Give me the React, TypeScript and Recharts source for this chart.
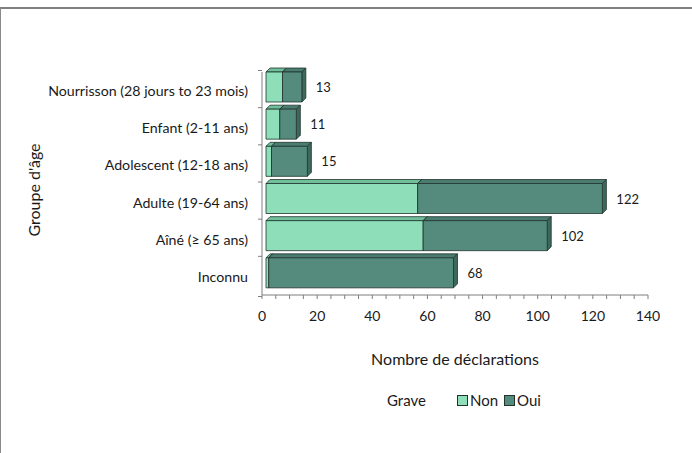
import { BarChart, Bar, XAxis, YAxis, LabelList, Legend, Label } from 'recharts';

const categories = [
  'Nourrisson (28 jours to 23 mois)',
  'Enfant (2-11 ans)',
  'Adolescent (12-18 ans)',
  'Adulte (19-64 ans)',
  'Aîné (≥ 65 ans)',
  'Inconnu',
];
const nonValues = [6, 5, 2, 55, 57, 1];
const ouiValues = [7, 6, 13, 67, 45, 67];
const xTicks = [0, 5, 10, 15, 20, 25, 30, 35, 40, 45, 50, 55, 60, 65, 70, 75, 80, 85, 90, 95, 100, 105, 110, 115, 120, 125, 130, 135, 140];
const labeledTicks = [0, 20, 40, 60, 80, 100, 120, 140];

const data = categories.map((name, i) => ({
  name,
  non: nonValues[i],
  oui: ouiValues[i],
  total: nonValues[i] + ouiValues[i],
}));

const FONT = 'Lato, "Open Sans", sans-serif';
const AXIS = '#7f7f7f';
const TEXT = '#1a1a1a';
const PLOT_TOP = 72;
const PLOT_BOTTOM = 313;
const BAND = (PLOT_BOTTOM - PLOT_TOP) / categories.length;
// 3d look: front face shifted, depth going up-right
const SHIFT_X = 4;
const SHIFT_Y = -4;
const DEPTH = 4;

const make3d = (front: string, top: string, side: string) => (props: any) => {
  const { x, y, width, height } = props;
  if (!width || width <= 0) return null;
  const fx = x + SHIFT_X;
  const fy = y + SHIFT_Y;
  const d = DEPTH;
  return (
    <g stroke="#22332d" strokeWidth={0.8} strokeLinejoin="round">
      <polygon points={`${fx},${fy} ${fx + d},${fy - d} ${fx + width + d},${fy - d} ${fx + width},${fy}`} fill={top} />
      <polygon points={`${fx + width},${fy} ${fx + width + d},${fy - d} ${fx + width + d},${fy + height - d} ${fx + width},${fy + height}`} fill={side} />
      <rect x={fx} y={fy} width={width} height={height} fill={front} />
    </g>
  );
};

const NonShape = make3d('#8ddeb9', '#6fbf9a', '#5fa585');
const OuiShape = make3d('#548b7d', '#4a7c6f', '#3d695d');

const YTick = (props: any) => {
  const { x, y, payload, index } = props;
  return (
    <g>
      <line x1={x - 4} x2={x} y1={y - BAND / 2} y2={y - BAND / 2} stroke={AXIS} />
      {index === categories.length - 1 && (
        <line x1={x - 4} x2={x} y1={y + BAND / 2} y2={y + BAND / 2} stroke={AXIS} />
      )}
      <text x={x - 14} y={y} textAnchor="end" dominantBaseline="central" fontSize={14.2} fontFamily={FONT} fill={TEXT}>
        {payload.value}
      </text>
    </g>
  );
};

const XTick = (props: any) => {
  const { x, y, payload } = props;
  return (
    <g>
      <line x1={x} x2={x} y1={y} y2={y + 4} stroke={AXIS} />
      {labeledTicks.includes(payload.value) && (
        <text x={x} y={y + 20} textAnchor="middle" dominantBaseline="central" fontSize={14} fontFamily={FONT} fill={TEXT}>
          {payload.value}
        </text>
      )}
    </g>
  );
};

const TotalLabel = (props: any) => {
  const { x, y, width, height, value } = props;
  return (
    <text x={x + width + SHIFT_X + 14} y={y + height / 2 + SHIFT_Y} dominantBaseline="central" fontSize={13} fontFamily={FONT} fill={TEXT}>
      {value}
    </text>
  );
};

const LegendBox = () => (
  <div style={{ display: 'flex', alignItems: 'center', fontFamily: FONT, fontSize: 15, color: TEXT }}>
    <span style={{ marginRight: 31 }}>Grave</span>
    <span style={{ width: 9, height: 9, background: '#8ddeb9', border: '1px solid #22332d', marginRight: 2 }} />
    <span style={{ marginRight: 6 }}>Non</span>
    <span style={{ width: 9, height: 9, background: '#548b7d', border: '1px solid #22332d', marginRight: 2 }} />
    <span>Oui</span>
  </div>
);

export default function App() {
  return (
    <div style={{ position: 'absolute', left: 0, top: 0, width: 692, height: 453, background: '#fff' }}>
      <div
        style={{
          position: 'absolute', left: 0, top: 7, width: 692, height: 446, boxSizing: 'border-box',
          borderTop: '2px solid #808080', borderLeft: '1px solid #8a8a8a',
        }}
      />
      <div style={{ position: 'absolute', left: 0, top: 0 }}>
        <BarChart
          width={692}
          height={453}
          data={data}
          layout="vertical"
          margin={{ top: PLOT_TOP, right: 44, bottom: 0, left: 0 }}
          barCategoryGap={0}
        >
          <XAxis
            type="number"
            domain={[0, 140]}
            ticks={xTicks}
            interval={0}
            height={453 - PLOT_BOTTOM}
            axisLine={{ stroke: AXIS }}
            tickLine={false}
            tickSize={0}
            tickMargin={0}
            tick={<XTick />}
          >
            <Label
              content={() => (
                <text x={455} y={358} textAnchor="middle" dominantBaseline="central" fontSize={16} fontFamily={FONT} fill={TEXT}>
                  Nombre de déclarations
                </text>
              )}
            />
          </XAxis>
          <YAxis
            type="category"
            dataKey="name"
            width={262}
            axisLine={{ stroke: AXIS }}
            tickLine={false}
            tickSize={0}
            tickMargin={0}
            interval={0}
            tick={<YTick />}
          >
            <Label
              content={() => (
                <text x={33} y={190} textAnchor="middle" dominantBaseline="central" fontSize={16} fontFamily={FONT} fill={TEXT} transform="rotate(-90 33 190)">
                  Groupe d'âge
                </text>
              )}
            />
          </YAxis>
          <Legend
            content={<LegendBox />}
            wrapperStyle={{ position: 'absolute', left: 387, top: 391, width: 'auto' }}
          />
          <Bar dataKey="non" name="Non" stackId="a" barSize={30} fill="#8ddeb9" shape={NonShape} isAnimationActive={false} />
          <Bar dataKey="oui" name="Oui" stackId="a" barSize={30} fill="#548b7d" shape={OuiShape} isAnimationActive={false}>
            <LabelList dataKey="total" content={<TotalLabel />} />
          </Bar>
        </BarChart>
      </div>
    </div>
  );
}
